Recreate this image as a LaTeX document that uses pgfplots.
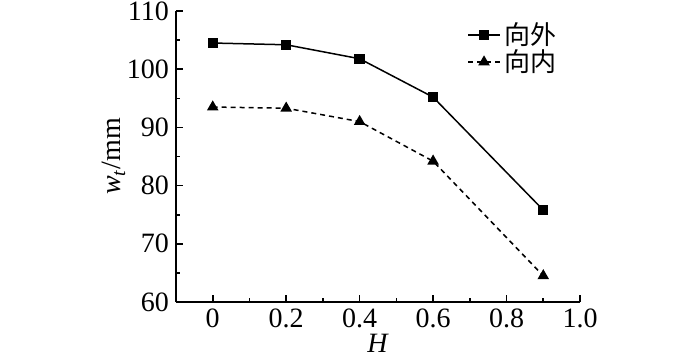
\documentclass[border=0pt]{standalone}
\usepackage{fontspec}
\setmainfont{Liberation Serif}
\newfontfamily\cjk{Noto Sans CJK SC}
\usepackage{pgfplots}
\pgfplotsset{compat=1.18}
\begin{document}
\begin{tikzpicture}
\useasboundingbox (-88pt,-28.5pt) rectangle (262pt,151pt);
\begin{axis}[
  at={(0,0)}, anchor=south west,
  scale only axis, width=202pt, height=145.5pt,
  xmin=-0.1, xmax=1.0, ymin=60, ymax=110,
  axis lines*=left,
  axis line style={line width=0.9pt},
  xtick={0,0.2,0.4,0.6,0.8,1.0},
  xticklabels={0,0.2,0.4,0.6,0.8,1.0},
  ytick={60,70,80,90,100,110},
  minor x tick num=1, minor y tick num=1,
  tick align=inside,
  major tick length=3.5pt, minor tick length=2pt,
  tick style={line width=0.8pt, black},
  /pgf/number format/assume math mode=true,
  tick label style={font=\fontsize{14}{16}\selectfont},
  label style={font=\fontsize{14}{16}\selectfont},
  xlabel={\textit{H}},
  ylabel={\textit{w}\textsubscript{\textit{t}}/mm},
  xlabel style={yshift=4pt},
  ylabel style={yshift=-6pt},
  legend style={draw=none, fill=none, at={(0.72,0.975)}, anchor=north west,
    font=\cjk\fontsize{13}{15}\selectfont, row sep=-3pt,
    inner sep=0pt},
  legend cell align=left,
  legend image code/.code={
    \draw[mark repeat=2, mark phase=2, #1] plot coordinates {(0pt,0pt) (8pt,0pt) (16pt,0pt)};
  },
]
\addplot[black, line width=0.75pt, mark=square*, mark size=2.2pt, mark options={solid}]
  coordinates {(0,104.5) (0.2,104.2) (0.4,101.8) (0.6,95.2) (0.9,75.8)};
\addlegendentry{向外}
\addplot[black, line width=0.75pt, dash pattern=on 2.5pt off 2pt, mark=triangle*, mark size=2.6pt, mark options={solid}]
  coordinates {(0,93.5) (0.2,93.3) (0.4,91.0) (0.6,84.2) (0.9,64.5)};
\addlegendentry{向内}
\end{axis}
\end{tikzpicture}
\end{document}
